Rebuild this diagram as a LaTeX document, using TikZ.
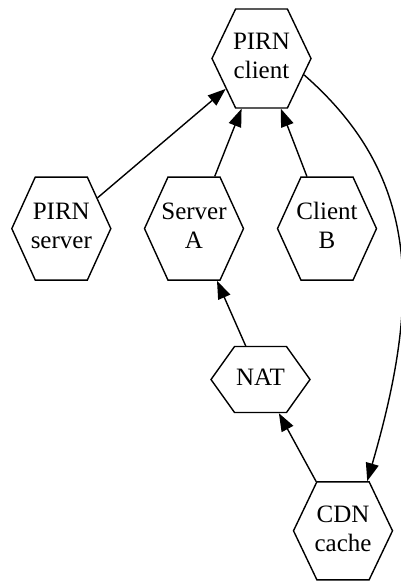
\documentclass[tikz,border=0pt]{standalone}
\usepackage{fontspec}
\setmainfont{Liberation Serif}
\usetikzlibrary{shapes.symbols,arrows.meta}
\newcommand{\hexlabel}[1]{\makebox[0pt]{\begin{tabular}{@{}c@{}}#1\end{tabular}}}
\tikzset{
  hexa/.style={draw, line width=1.4pt, signal, signal to=west and east, inner sep=0pt,
    minimum width=99pt, minimum height=99pt, signal pointer angle=129,
    font=\fontsize{25}{29}\selectfont},
  edge/.style={line width=1.4pt, -{Triangle[length=18pt,width=13pt]}}
}
\begin{document}
\begin{tikzpicture}[x=1pt,y=-1pt]
\useasboundingbox (0,0) rectangle (401,581);
\node[hexa] (pc) at (261.5,58.5) {\hexlabel{PIRN\\client}};
\node[hexa, minimum height=103pt, signal pointer angle=131] (ps) at (61.3,228.6) {\hexlabel{PIRN\\server}};
\node[hexa, minimum height=103pt, signal pointer angle=131] (sa) at (194,228.6) {\hexlabel{Server\\A}};
\node[hexa, minimum height=103pt, signal pointer angle=131] (cb) at (327,228.6) {\hexlabel{Client\\B}};
\node[hexa, minimum height=66pt, signal pointer angle=109] (nat) at (260.5,379.5) {\hexlabel{NAT}};
\node[hexa, minimum height=98pt] (cdn) at (343,530.8) {\hexlabel{CDN\\cache}};
\draw[edge] (ps) -- (pc);
\draw[edge] (sa) -- (pc);
\draw[edge] (cb) -- (pc);
\draw[edge] (nat) -- (sa);
\draw[edge] (cdn) -- (nat);
\draw[edge] (pc.-21) .. controls +(113,99) and +(56,-192) .. (cdn.64);
\end{tikzpicture}
\end{document}
